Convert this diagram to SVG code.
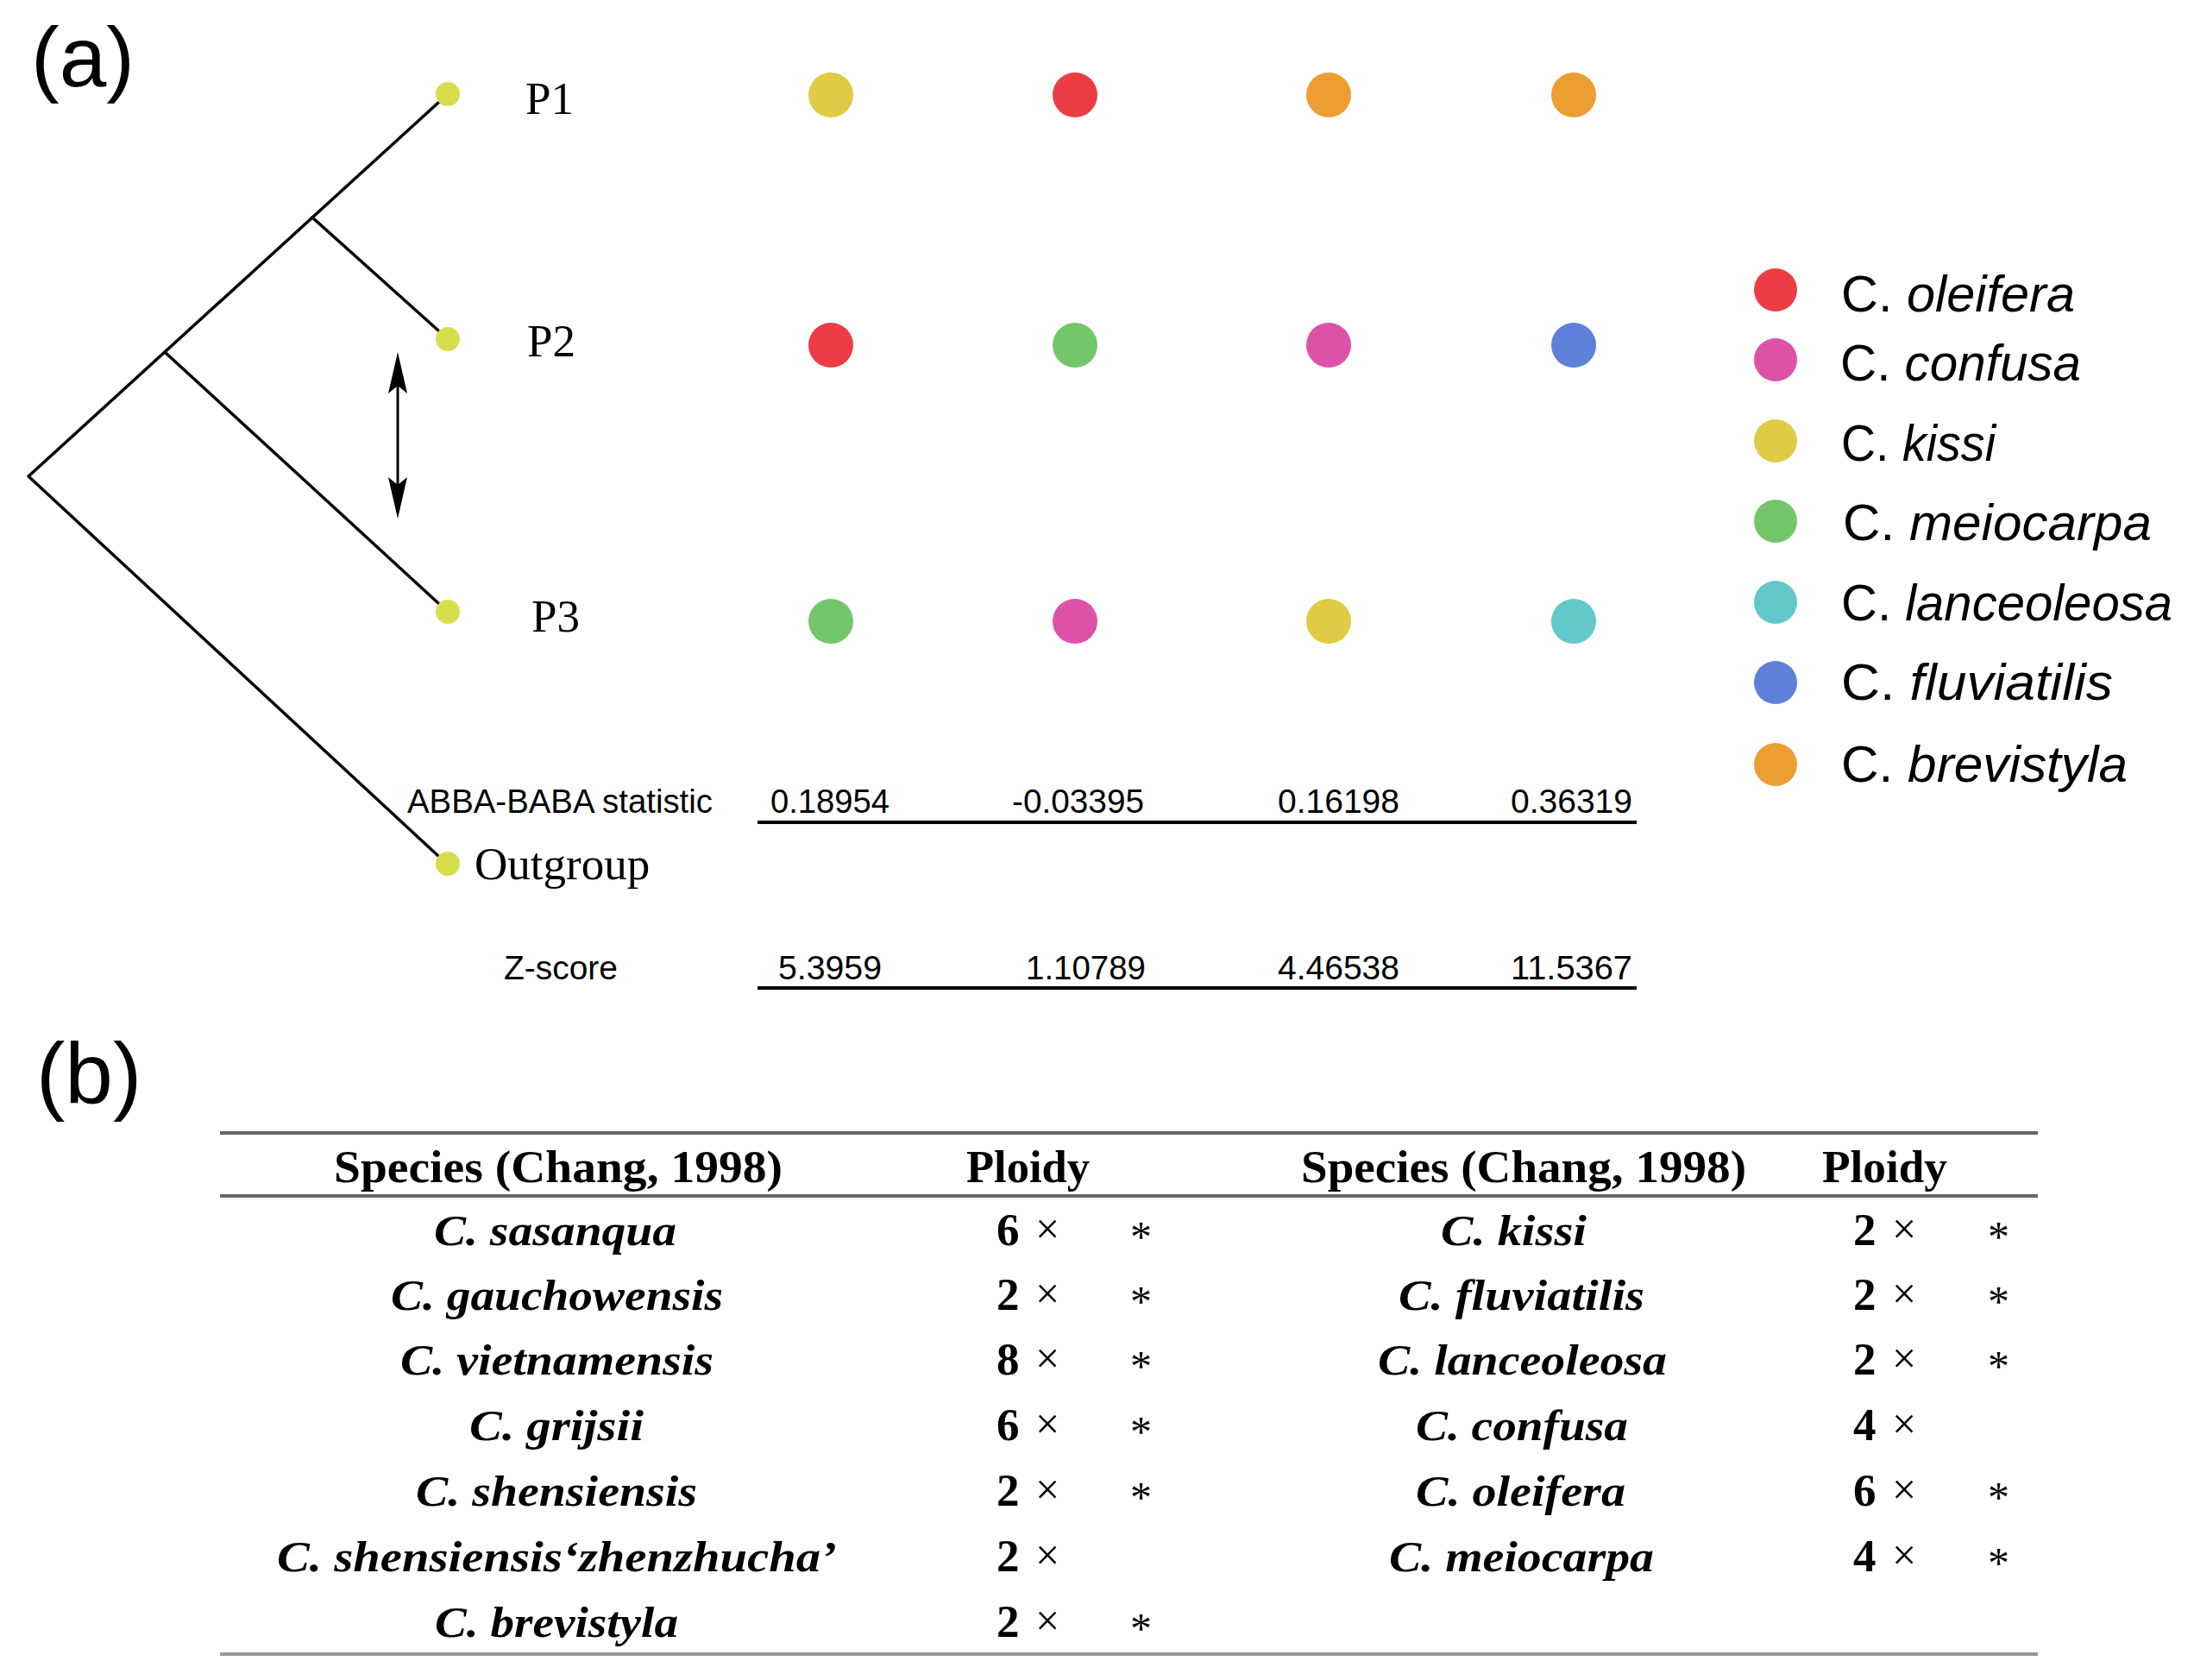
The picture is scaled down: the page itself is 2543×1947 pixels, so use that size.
<svg xmlns="http://www.w3.org/2000/svg" width="2543" height="1947" viewBox="0 0 2543 1947">
<defs>
<style>
.panel{font-family:"Liberation Sans",Arial,sans-serif;fill:#000}
.tip{fill:#D7DE4E}
.plab{font-family:"Liberation Serif","Times New Roman",serif;font-size:53px;fill:#000}
.stat{font-family:"Liberation Sans",Arial,sans-serif;font-size:38px;fill:#000}
.leg{font-family:"Liberation Sans",Arial,sans-serif;font-size:60px;fill:#000}
.hdr{font-family:"Liberation Serif","Times New Roman",serif;font-size:53px;font-weight:bold;fill:#000}
.sp{font-family:"Liberation Serif","Times New Roman",serif;font-size:50px;font-weight:bold;font-style:italic;fill:#000}
.num{font-family:"Liberation Serif","Times New Roman",serif;font-size:53px;font-weight:bold;fill:#000}
.times{font-family:"Liberation Serif","Times New Roman",serif;font-size:50px;fill:#000}
.ast{font-family:"Liberation Serif","Times New Roman",serif;font-size:50px;fill:#000}
.branch{stroke:#000;stroke-width:3.5;fill:none;stroke-linecap:round;stroke-linejoin:round}
.rule{stroke:#000;stroke-width:4}
.trule{stroke:#666;stroke-width:4}
.c-red{fill:#EC3D44}.c-pink{fill:#DD52A8}.c-yel{fill:#E0CB44}.c-grn{fill:#73C76A}.c-cyn{fill:#62C8C9}.c-blu{fill:#5F80D9}.c-org{fill:#EC9E33}
</style>
</defs>
<rect width="2543" height="1947" fill="#fff"/>

<text class="panel" x="36" y="100" font-size="98">(a)</text>
<text class="panel" x="42" y="1279" font-size="100">(b)</text>

<g id="connectors">
  <path class="branch" d="M508 119 L33 552 L508 992"/>
  <path class="branch" d="M362 252 L508 383"/>
  <path class="branch" d="M191 408 L508 699"/>
  <line x1="461" y1="440" x2="461" y2="570" stroke="#000" stroke-width="3"/>
  <path d="M461 408 L472 456 L461 447 L450 456 Z" fill="#000"/>
  <path d="M461 601 L472 553 L461 562 L450 553 Z" fill="#000"/>
</g>

<g id="node-P1"><circle class="tip" cx="519" cy="109" r="14"/><text class="plab" x="609" y="132">P1</text></g>
<g id="node-P2"><circle class="tip" cx="519" cy="393" r="14"/><text class="plab" x="611" y="413">P2</text></g>
<g id="node-P3"><circle class="tip" cx="519" cy="709" r="14"/><text class="plab" x="616" y="732">P3</text></g>
<g id="node-Outgroup"><circle class="tip" cx="519" cy="1001" r="14"/><text class="plab" x="550" y="1019">Outgroup</text></g>

<g id="matrix">
  <circle class="c-yel" cx="963" cy="110" r="26"/>
  <circle class="c-red" cx="1246" cy="110" r="26"/>
  <circle class="c-org" cx="1540" cy="110" r="26"/>
  <circle class="c-org" cx="1824" cy="110" r="26"/>
  <circle class="c-red" cx="963" cy="400" r="26"/>
  <circle class="c-grn" cx="1246" cy="400" r="26"/>
  <circle class="c-pink" cx="1540" cy="400" r="26"/>
  <circle class="c-blu" cx="1824" cy="400" r="26"/>
  <circle class="c-grn" cx="963" cy="720" r="26"/>
  <circle class="c-pink" cx="1246" cy="720" r="26"/>
  <circle class="c-yel" cx="1540" cy="720" r="26"/>
  <circle class="c-cyn" cx="1824" cy="720" r="26"/>
</g>

<g id="stats">
  <text class="stat" x="472" y="942" textLength="354" lengthAdjust="spacingAndGlyphs">ABBA-BABA statistic</text>
  <text class="stat" x="893" y="942" textLength="138" lengthAdjust="spacingAndGlyphs">0.18954</text>
  <text class="stat" x="1173" y="942" textLength="153" lengthAdjust="spacingAndGlyphs">-0.03395</text>
  <text class="stat" x="1481" y="942" textLength="141" lengthAdjust="spacingAndGlyphs">0.16198</text>
  <text class="stat" x="1751" y="942" textLength="141" lengthAdjust="spacingAndGlyphs">0.36319</text>
  <line class="rule" x1="878" y1="953" x2="1897" y2="953"/>
  <text class="stat" x="584" y="1135" textLength="132" lengthAdjust="spacingAndGlyphs">Z-score</text>
  <text class="stat" x="902" y="1135" textLength="120" lengthAdjust="spacingAndGlyphs">5.3959</text>
  <text class="stat" x="1189" y="1135" textLength="139" lengthAdjust="spacingAndGlyphs">1.10789</text>
  <text class="stat" x="1481" y="1135" textLength="141" lengthAdjust="spacingAndGlyphs">4.46538</text>
  <text class="stat" x="1751" y="1135" textLength="141" lengthAdjust="spacingAndGlyphs">11.5367</text>
  <line class="rule" x1="878" y1="1145" x2="1897" y2="1145"/>
</g>

<g id="legend">
  <g id="leg-oleifera"><circle class="c-red" cx="2058" cy="336" r="25"/><text class="leg" x="2134" y="361" textLength="271" lengthAdjust="spacingAndGlyphs">C. <tspan font-style="italic">oleifera</tspan></text></g>
  <g id="leg-confusa"><circle class="c-pink" cx="2058" cy="417" r="25"/><text class="leg" x="2133" y="441" textLength="279" lengthAdjust="spacingAndGlyphs">C. <tspan font-style="italic">confusa</tspan></text></g>
  <g id="leg-kissi"><circle class="c-yel" cx="2058" cy="511" r="25"/><text class="leg" x="2134" y="534" textLength="179" lengthAdjust="spacingAndGlyphs">C. <tspan font-style="italic">kissi</tspan></text></g>
  <g id="leg-meiocarpa"><circle class="c-grn" cx="2058" cy="604" r="25"/><text class="leg" x="2136" y="626" textLength="358" lengthAdjust="spacingAndGlyphs">C. <tspan font-style="italic">meiocarpa</tspan></text></g>
  <g id="leg-lanceoleosa"><circle class="c-cyn" cx="2058" cy="698" r="25"/><text class="leg" x="2134" y="719" textLength="384" lengthAdjust="spacingAndGlyphs">C. <tspan font-style="italic">lanceoleosa</tspan></text></g>
  <g id="leg-fluviatilis"><circle class="c-blu" cx="2058" cy="791" r="25"/><text class="leg" x="2134" y="811" textLength="315" lengthAdjust="spacingAndGlyphs">C. <tspan font-style="italic">fluviatilis</tspan></text></g>
  <g id="leg-brevistyla"><circle class="c-org" cx="2058" cy="886" r="25"/><text class="leg" x="2134" y="906" textLength="332" lengthAdjust="spacingAndGlyphs">C. <tspan font-style="italic">brevistyla</tspan></text></g>
</g>

<g id="table">
  <line class="trule" x1="255" y1="1313" x2="2362" y2="1313"/>
  <line class="trule" x1="255" y1="1386" x2="2362" y2="1386"/>
  <line x1="255" y1="1917" x2="2362" y2="1917" stroke="#999" stroke-width="4"/>
  <text class="hdr" x="387" y="1370" textLength="520" lengthAdjust="spacingAndGlyphs">Species (Chang, 1998)</text>
  <text class="hdr" x="1120" y="1370" textLength="143" lengthAdjust="spacingAndGlyphs">Ploidy</text>
  <text class="hdr" x="1508" y="1370" textLength="516" lengthAdjust="spacingAndGlyphs">Species (Chang, 1998)</text>
  <text class="hdr" x="2112" y="1370" textLength="145" lengthAdjust="spacingAndGlyphs">Ploidy</text>

  <g id="row-sasanqua"><text class="sp" x="503" y="1443" textLength="281" lengthAdjust="spacingAndGlyphs">C. sasanqua</text><text class="num" x="1155" y="1443">6</text><text class="times" x="1200" y="1441">×</text><text class="ast" x="1310" y="1450">*</text></g>
  <g id="row-gauchowensis"><text class="sp" x="453" y="1518" textLength="385" lengthAdjust="spacingAndGlyphs">C. gauchowensis</text><text class="num" x="1155" y="1518">2</text><text class="times" x="1200" y="1516">×</text><text class="ast" x="1310" y="1525">*</text></g>
  <g id="row-vietnamensis"><text class="sp" x="464" y="1593" textLength="363" lengthAdjust="spacingAndGlyphs">C. vietnamensis</text><text class="num" x="1155" y="1593">8</text><text class="times" x="1200" y="1591">×</text><text class="ast" x="1310" y="1600">*</text></g>
  <g id="row-grijsii"><text class="sp" x="544" y="1669" textLength="202" lengthAdjust="spacingAndGlyphs">C. grijsii</text><text class="num" x="1155" y="1669">6</text><text class="times" x="1200" y="1667">×</text><text class="ast" x="1310" y="1676">*</text></g>
  <g id="row-shensiensis"><text class="sp" x="482" y="1745" textLength="326" lengthAdjust="spacingAndGlyphs">C. shensiensis</text><text class="num" x="1155" y="1745">2</text><text class="times" x="1200" y="1743">×</text><text class="ast" x="1310" y="1752">*</text></g>
  <g id="row-zhenzhucha"><text class="sp" x="321" y="1821" textLength="649" lengthAdjust="spacingAndGlyphs">C. shensiensis‘zhenzhucha’</text><text class="num" x="1155" y="1821">2</text><text class="times" x="1200" y="1819">×</text></g>
  <g id="row-brevistyla"><text class="sp" x="504" y="1897" textLength="282" lengthAdjust="spacingAndGlyphs">C. brevistyla</text><text class="num" x="1155" y="1897">2</text><text class="times" x="1200" y="1895">×</text><text class="ast" x="1310" y="1904">*</text></g>

  <g id="row-kissi"><text class="sp" x="1670" y="1443" textLength="169" lengthAdjust="spacingAndGlyphs">C. kissi</text><text class="num" x="2148" y="1443">2</text><text class="times" x="2193" y="1441">×</text><text class="ast" x="2304" y="1450">*</text></g>
  <g id="row-fluviatilis"><text class="sp" x="1621" y="1518" textLength="285" lengthAdjust="spacingAndGlyphs">C. fluviatilis</text><text class="num" x="2148" y="1518">2</text><text class="times" x="2193" y="1516">×</text><text class="ast" x="2304" y="1525">*</text></g>
  <g id="row-lanceoleosa"><text class="sp" x="1597" y="1593" textLength="335" lengthAdjust="spacingAndGlyphs">C. lanceoleosa</text><text class="num" x="2148" y="1593">2</text><text class="times" x="2193" y="1591">×</text><text class="ast" x="2304" y="1600">*</text></g>
  <g id="row-confusa"><text class="sp" x="1641" y="1669" textLength="246" lengthAdjust="spacingAndGlyphs">C. confusa</text><text class="num" x="2148" y="1669">4</text><text class="times" x="2193" y="1667">×</text></g>
  <g id="row-oleifera"><text class="sp" x="1641" y="1745" textLength="243" lengthAdjust="spacingAndGlyphs">C. oleifera</text><text class="num" x="2148" y="1745">6</text><text class="times" x="2193" y="1743">×</text><text class="ast" x="2304" y="1752">*</text></g>
  <g id="row-meiocarpa"><text class="sp" x="1610" y="1821" textLength="307" lengthAdjust="spacingAndGlyphs">C. meiocarpa</text><text class="num" x="2148" y="1821">4</text><text class="times" x="2193" y="1819">×</text><text class="ast" x="2304" y="1828">*</text></g>
</g>
</svg>
